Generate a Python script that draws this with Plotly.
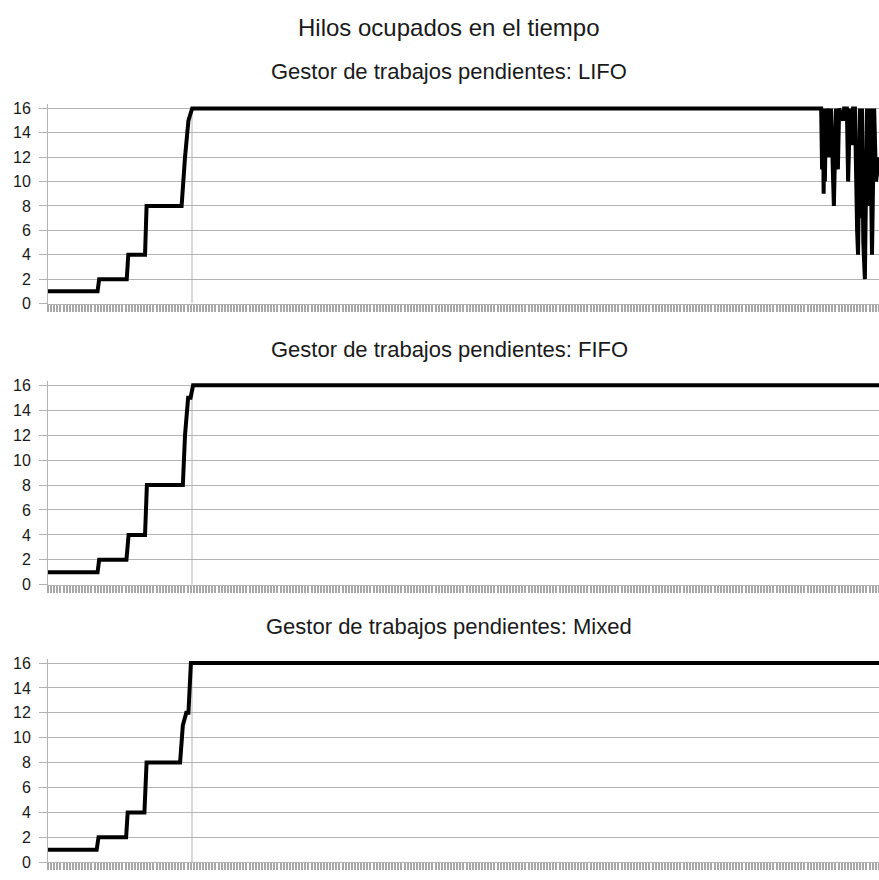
import plotly.graph_objects as go

# Busy threads over time for three pending-work managers.
# Time is measured in sampling intervals; values are busy thread counts.
lifo_t = [0, 16.0, 16.5, 25.4, 25.9, 31.3, 31.8, 43.1, 44.2, 45.3, 46.5,
          249.4, 249.7, 250.0, 250.2, 250.5, 250.6, 251.0, 251.3, 251.9, 252.3,
          252.6, 253.5, 254.2, 254.8, 255.2, 256.5, 256.8, 257.7, 258.1, 258.7,
          259.4, 259.7, 260.3, 261.0, 261.3, 261.9, 262.3, 262.6, 263.0, 263.5,
          264.2, 264.5, 264.9, 265.2, 265.8, 266.5, 267.1, 268.1]
lifo_n = [1, 1, 2, 2, 4, 4, 8, 8, 12, 15, 16,
          16, 11, 16, 9, 16, 10, 16, 12, 16, 12,
          16, 8, 16, 11, 16, 15, 16, 16, 10, 16,
          13, 16, 16, 6, 4, 16, 7, 16, 5, 2,
          16, 8, 16, 16, 4, 16, 10, 12]

fifo_t = [0, 16.0, 16.5, 25.3, 26.0, 31.3, 31.9, 43.5, 44.2, 45.2, 46.0, 46.8, 268.1]
fifo_n = [1, 1, 2, 2, 4, 4, 8, 8, 12, 15, 15, 16, 16]

mixed_t = [0, 15.7, 16.3, 25.2, 25.7, 31.1, 31.8, 42.6, 43.2, 43.5, 44.6, 45.3, 46.1, 268.1]
mixed_n = [1, 1, 2, 2, 4, 4, 8, 8, 10, 11, 12, 12, 16, 16]

y_ticks = [0, 2, 4, 6, 8, 10, 12, 14, 16]
main_title = "Hilos ocupados en el tiempo"
panel_titles = ["Gestor de trabajos pendientes: LIFO",
                "Gestor de trabajos pendientes: FIFO",
                "Gestor de trabajos pendientes: Mixed"]
series = [(lifo_t, lifo_n), (fifo_t, fifo_n), (mixed_t, mixed_n)]

W, H = 879, 880
LEFT = 48
X_MAX = 268.06
MARK_X = 46.45          # the single vertical grid line
GRID = "#b3b3b3"
TICK = "#a8a8a8"
FONT = "Liberation Sans, Arial, sans-serif"
TEXT_X = (449 - LEFT) / (W - LEFT)   # horizontal centre of the titles, in paper units

# pixel rows of the 0 and 16 grid lines for each panel, and title centres
panels = [(304.0, 106.0, 69), (589.5, 387.0, 351), (871.0, 669.0, 632)]

fig = go.Figure()
annotations = [dict(text=main_title, x=TEXT_X, xref="paper", y=1 - 24 / H, yref="paper",
                    showarrow=False, xanchor="center", yanchor="middle",
                    font=dict(family=FONT, size=24, color="#1a1a1a"))]
shapes = []

for i, ((t, n), (y0, y16, ty), sub) in enumerate(zip(series, panels, panel_titles)):
    k = "" if i == 0 else str(i + 1)
    ppu = (y0 - y16) / 16.0
    ytop = 16.35
    top_px = y0 - ytop * ppu
    fig.add_trace(go.Scatter(x=t, y=n, mode="lines", xaxis="x" + k, yaxis="y" + k,
                             line=dict(color="black", width=4), showlegend=False,
                             hoverinfo="skip"))
    fig.layout["xaxis" + k] = dict(
        domain=[0, 1], anchor="y" + k, range=[0, X_MAX],
        tickmode="linear", tick0=0, dtick=1, ticks="outside", ticklen=7,
        tickcolor=TICK, tickwidth=2, showticklabels=False, showgrid=False,
        zeroline=False, showline=True, linecolor=GRID, linewidth=1, fixedrange=True)
    fig.layout["yaxis" + k] = dict(
        domain=[1 - y0 / H, 1 - top_px / H], anchor="x" + k, range=[0, ytop],
        tickmode="array", tickvals=y_ticks, ticks="outside", ticklen=8,
        tickcolor=GRID, ticklabelstandoff=5, showgrid=True, gridcolor=GRID,
        gridwidth=1, zeroline=False, showline=True, linecolor=GRID, linewidth=1,
        tickfont=dict(family=FONT, size=16, color="#1a1a1a"), fixedrange=True)
    shapes.append(dict(type="line", xref="x" + k, yref="y" + k, x0=MARK_X, x1=MARK_X,
                       y0=0, y1=16, line=dict(color=GRID, width=1), layer="below"))
    annotations.append(dict(text=sub, x=TEXT_X, xref="paper",
                            y=1 - ty / H, yref="paper", showarrow=False,
                            xanchor="center", yanchor="middle",
                            font=dict(family=FONT, size=22, color="#1a1a1a")))

fig.update_layout(width=W, height=H, margin=dict(l=LEFT, r=0, t=0, b=0),
                  paper_bgcolor="white", plot_bgcolor="white",
                  annotations=annotations, shapes=shapes)

fig.write_html("out.html")
